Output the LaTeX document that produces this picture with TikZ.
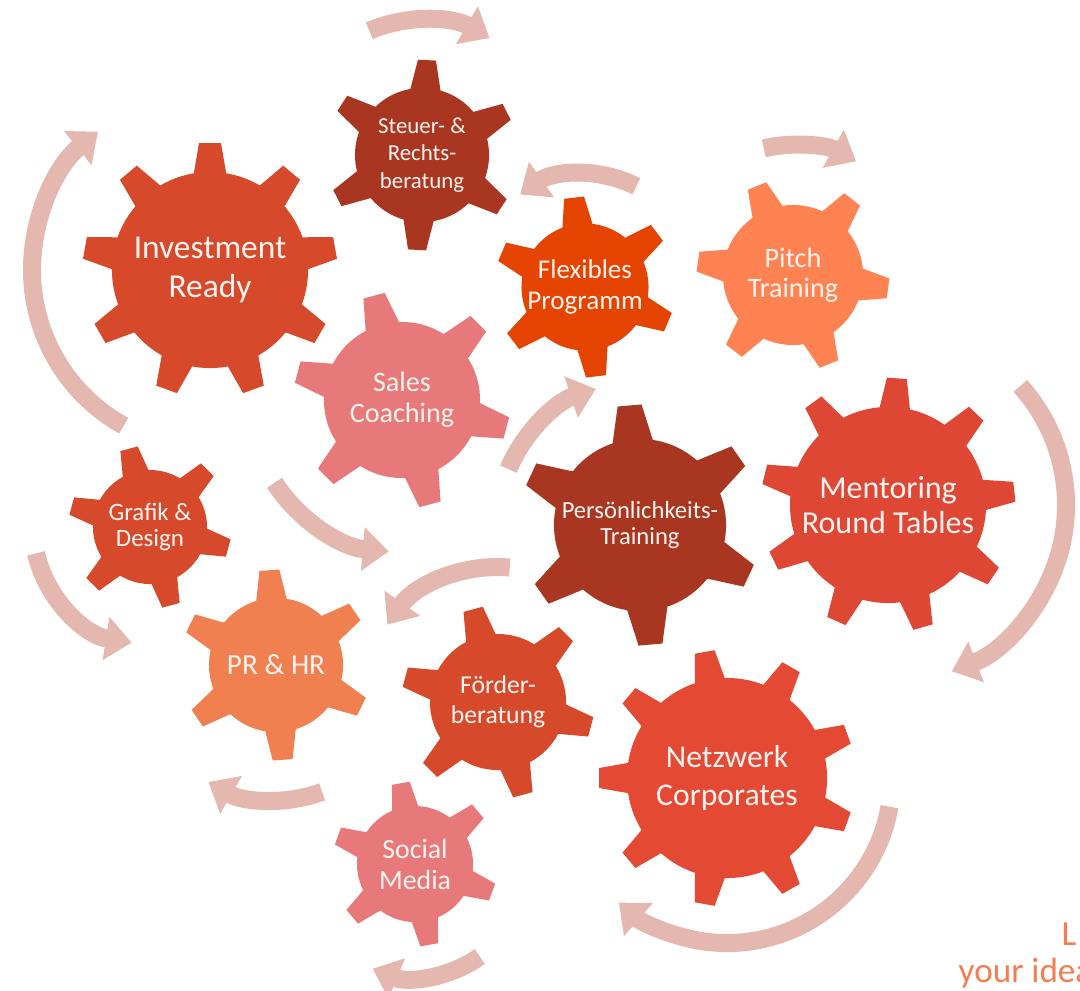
\documentclass[tikz,border=0pt]{standalone}
\usepackage{fontspec}
\setmainfont{Carlito}
\usetikzlibrary{arrows.meta}
\pgfdeclarelayer{bg}
\pgfsetlayers{bg,main}
\definecolor{invc}{RGB}{214,74,43}
\definecolor{darkc}{RGB}{169,54,33}
\definecolor{flexc}{RGB}{228,68,0}
\definecolor{pitchc}{RGB}{255,130,82}
\definecolor{pinkc}{RGB}{231,121,123}
\definecolor{mentc}{RGB}{222,71,52}
\definecolor{prc}{RGB}{240,128,80}
\definecolor{netzc}{RGB}{228,73,52}
\definecolor{arrc}{RGB}{228,183,175}
\definecolor{txtc}{RGB}{255,243,239}
\definecolor{tagc}{RGB}{244,125,82}

\begin{document}
\begin{tikzpicture}[x=0.01cm,y=-0.01cm,myg/.style={circle,inner sep=0pt,text=txtc,align=center},mya/.style={draw=arrc,line width=0.18cm,-{Triangle[width=0.42cm,length=0.26cm]}},myt/.style={anchor=base west,inner sep=0pt,text=tagc,font=\fontsize{10}{12}\selectfont}]
  \useasboundingbox (0,0) rectangle (1080,990);
  \clip (0,0) rectangle (1080,990);

  \node[myg,fill=invc,minimum size=1.96cm,font=\fontsize{9.5}{11}\selectfont] (a) at (210,270) {Investment\\Ready};
  \node[myg,fill=darkc,minimum size=1.34cm,font=\fontsize{6.5}{7.8}\selectfont] (b) at (422,155) {Steuer- \&\\Rechts-\\beratung};
  \node[myg,fill=flexc,minimum size=1.26cm,font=\fontsize{7.7}{8.6}\selectfont] (c) at (585,287) {Flexibles\\Programm};
  \node[myg,fill=pitchc,minimum size=1.40cm,font=\fontsize{8}{8.6}\selectfont] (d) at (793,275) {Pitch\\Training};
  \node[myg,fill=pinkc,minimum size=1.56cm,font=\fontsize{8}{8.8}\selectfont] (e) at (402,400) {Sales\\Coaching};
  \node[myg,fill=darkc,minimum size=1.72cm,font=\fontsize{7}{7.2}\selectfont] (f) at (640,525) {Persönlichkeits-\\Training};
  \node[myg,fill=mentc,minimum size=1.96cm,font=\fontsize{9.1}{10}\selectfont] (g) at (888,505) {Mentoring\\Round Tables};
  \node[myg,fill=invc,minimum size=1.14cm,font=\fontsize{7.1}{7.4}\selectfont] (h) at (150,527) {Grafik \&\\Design};
  \node[myg,fill=prc,minimum size=1.34cm,font=\fontsize{8.3}{10}\selectfont] (i) at (276,665) {PR \& HR};
  \node[myg,fill=invc,minimum size=1.36cm,font=\fontsize{7.3}{8.5}\selectfont] (j) at (498,702) {Förder-\\beratung};
  \node[myg,fill=netzc,minimum size=2.00cm,font=\fontsize{9}{10.8}\selectfont] (k) at (727,778) {Netzwerk\\Corporates};
  \node[myg,fill=pinkc,minimum size=1.16cm,font=\fontsize{7.9}{8.8}\selectfont] (l) at (415,864) {Social\\Media};

  \node[myt] (m) at (1061,945) {L};
  \node[myt] (n) at (958,982) {your idea};

  \begin{pgfonlayer}{bg}
    \fill[white] (0,0) rectangle (1080,990);

    \draw[mya] ([shift={(-113:135)}]b.center) arc[start angle=-113,end angle=-60,radius=135];
    \draw[mya] ([shift={(119:178)}]a.center) arc[start angle=119,end angle=231,radius=178];
    \draw[mya] ([shift={(-63:113)}]c.center) arc[start angle=-63,end angle=-125,radius=113];
    \draw[mya] ([shift={(-103:130)}]d.center) arc[start angle=-103,end angle=-61,radius=130];
    \draw[mya] ([shift={(-42:178)}]g.center) arc[start angle=-42,end angle=69,radius=178];
    \draw[mya] ([shift={(-157:143)}]f.center) arc[start angle=-157,end angle=-108,radius=143];
    \draw[mya] ([shift={(147:152)}]e.center) arc[start angle=147,end angle=95,radius=152];
    \draw[mya] ([shift={(167:117)}]h.center) arc[start angle=167,end angle=99,radius=117];
    \draw[mya] ([shift={(-85:135)}]j.center) arc[start angle=-85,end angle=-145,radius=135];
    \draw[mya] ([shift={(70:135)}]i.center) arc[start angle=70,end angle=120,radius=135];
    \draw[mya] ([shift={(10:165)}]k.center) arc[start angle=10,end angle=131,radius=165];
    \draw[mya] ([shift={(55:113)}]l.center) arc[start angle=55,end angle=112,radius=113];

    \foreach \ang in {90,130,...,410} \fill[invc,shift={(a.center)},rotate=\ang] (92,-17) -- (127,-11) -- (127,11) -- (92,17) -- cycle;
    \foreach \ang in {87,147,...,387} \fill[darkc,shift={(b.center)},rotate=\ang] (61,-16) -- (95,-9) -- (95,9) -- (61,16) -- cycle;
    \foreach \ang in {97,157,...,397} \fill[flexc,shift={(c.center)},rotate=\ang] (57,-16) -- (90,-10) -- (90,10) -- (57,16) -- cycle;
    \foreach \ang in {112,172,...,412} \fill[pitchc,shift={(d.center)},rotate=\ang] (64,-17) -- (96,-10) -- (96,10) -- (64,17) -- cycle;
    \foreach \ang in {105,165,...,405} \fill[pinkc,shift={(e.center)},rotate=\ang] (72,-18) -- (108,-11) -- (108,11) -- (72,18) -- cycle;
    \foreach \ang in {95,155,...,395} \fill[darkc,shift={(f.center)},rotate=\ang] (80,-21) -- (120,-12) -- (120,12) -- (80,21) -- cycle;
    \foreach \ang in {86,126,...,406} \fill[mentc,shift={(g.center)},rotate=\ang] (92,-16) -- (127,-10) -- (127,10) -- (92,16) -- cycle;
    \foreach \ang in {105,165,...,405} \fill[invc,shift={(h.center)},rotate=\ang] (51,-14) -- (81,-9) -- (81,9) -- (51,14) -- cycle;
    \foreach \ang in {94,154,...,394} \fill[prc,shift={(i.center)},rotate=\ang] (61,-16) -- (95,-10) -- (95,10) -- (61,16) -- cycle;
    \foreach \ang in {105,165,...,405} \fill[invc,shift={(j.center)},rotate=\ang] (62,-16) -- (96,-10) -- (96,10) -- (62,16) -- cycle;
    \foreach \ang in {100,140,...,420} \fill[netzc,shift={(k.center)},rotate=\ang] (94,-16) -- (128,-10) -- (128,10) -- (94,16) -- cycle;
    \foreach \ang in {100,160,...,400} \fill[pinkc,shift={(l.center)},rotate=\ang] (52,-14) -- (82,-9) -- (82,9) -- (52,14) -- cycle;
  \end{pgfonlayer}

\end{tikzpicture}
\end{document}
